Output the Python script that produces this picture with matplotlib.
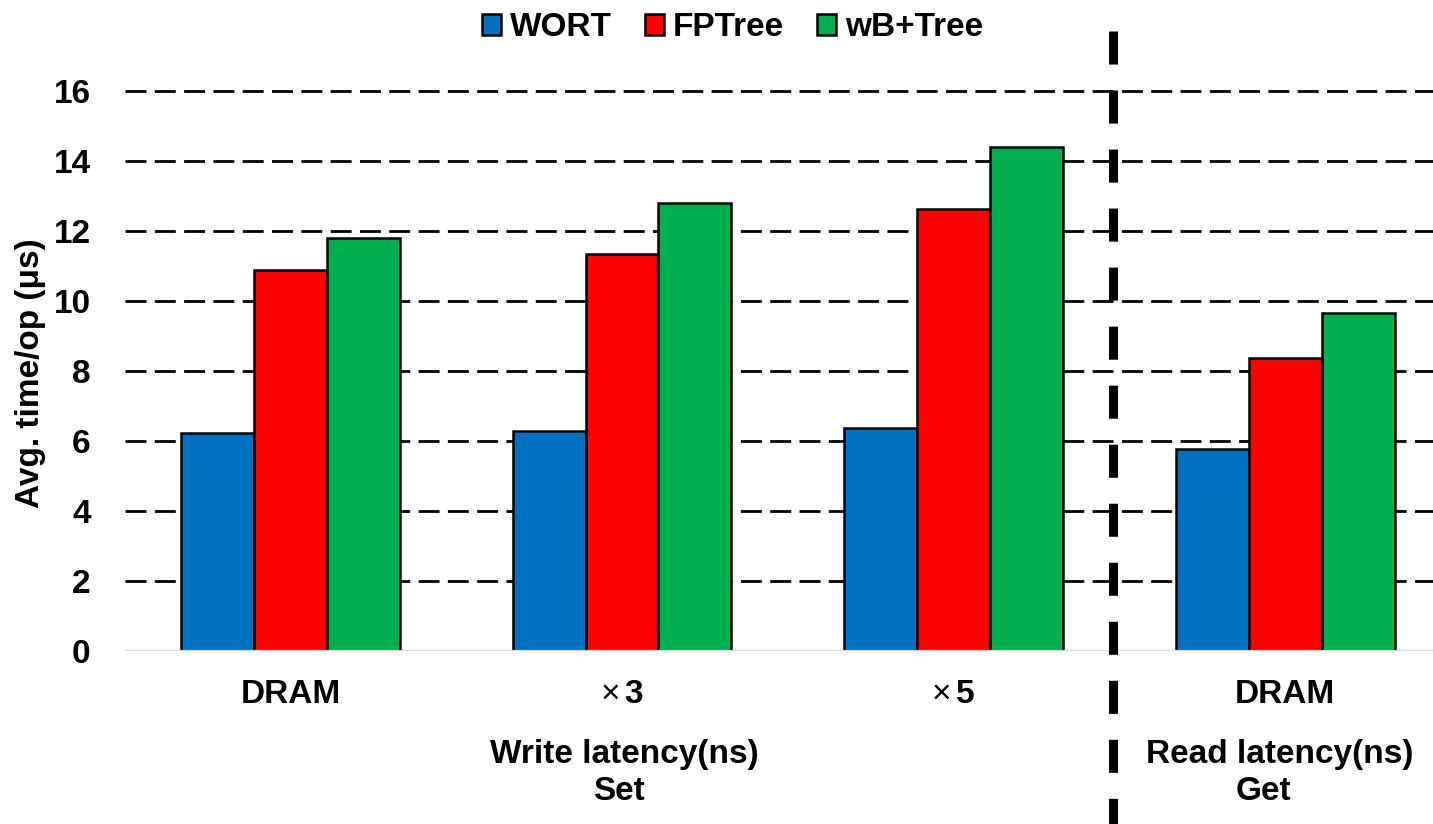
import matplotlib
matplotlib.use("Agg")
import matplotlib.pyplot as plt
from matplotlib.lines import Line2D
from matplotlib.transforms import blended_transform_factory
import numpy as np

plt.rcParams['font.family'] = ['Liberation Sans', 'DejaVu Sans']
plt.rcParams['font.weight'] = 'bold'
plt.rcParams['lines.scale_dashes'] = False

# ---- data ----
categories = ["DRAM", "\u00d73", "\u00d75", "DRAM"]
series_names = ["WORT", "FPTree", "wB+Tree"]
wort = [6.22, 6.29, 6.38, 5.76]
fptree = [10.88, 11.33, 12.63, 8.36]
wbtree = [11.79, 12.79, 14.39, 9.67]
series_colors = ["#0070C0", "#FF0000", "#00B050"]
yticks = [0, 2, 4, 6, 8, 10, 12, 14, 16]
write_label = ["Write latency(ns)", "Set"]
read_label = ["Read latency(ns)", "Get"]

W, H = 1433, 824
fig = plt.figure(figsize=(W / 100, H / 100), dpi=100)
ax = fig.add_axes([124.6 / W, 1 - 651 / H, (1451 - 124.6) / W, 560 / H])

x = np.arange(len(categories))
bw = 0.22
bars = []
for i, (vals, col) in enumerate(zip([wort, fptree, wbtree], series_colors)):
    b = ax.bar(x + (i - 1) * bw, vals, width=bw, color=col, edgecolor="black",
               linewidth=1.8, zorder=3, label=series_names[i])
    bars.append(b)

ax.set_xlim(-0.5, 3.5)
ax.set_ylim(yticks[0], yticks[-1])

# dashed horizontal gridlines
ax.hlines(yticks[1:], -0.5, 3.5, colors="black", linewidth=2.0,
          linestyles=[(0, (15.1, 6.0))], zorder=1, clip_on=False)
# light category axis at zero
ax.axhline(0, color="#D9D9D9", linewidth=1.6, zorder=4)

for s in ax.spines.values():
    s.set_visible(False)

ax.set_yticks(yticks)
ax.set_yticklabels([str(v) for v in yticks])
ax.set_xticks(x)
ax.set_xticklabels([])
ax.tick_params(axis="y", length=0, pad=24.5, labelsize=24)
ax.tick_params(axis="x", length=0)

tr = blended_transform_factory(ax.transData, fig.transFigure)
base_y = 1 - 703 / H
for xi, lab in zip(x, categories):
    if lab.startswith("\u00d7"):
        # multiplication sign in regular weight, factor in bold
        ax.text(xi - 0.006, base_y, lab[0], transform=tr, ha="right",
                va="baseline", fontsize=24, fontweight="normal")
        ax.text(xi + 0.006, base_y, lab[1:], transform=tr, ha="left",
                va="baseline", fontsize=24, fontweight="bold")
    else:
        ax.text(xi, base_y, lab, transform=tr, ha="center", va="baseline",
                fontsize=24, fontweight="bold")

# group captions below the category labels
ax.text(1.008, 1 - 763 / H, write_label[0], transform=tr, ha="center",
        va="baseline", fontsize=24, fontweight="bold")
ax.text(0.990, 1 - 800 / H, write_label[1], transform=tr, ha="center",
        va="baseline", fontsize=24, fontweight="bold")
ax.text(2.983, 1 - 763 / H, read_label[0], transform=tr, ha="center",
        va="baseline", fontsize=24, fontweight="bold")
ax.text(2.935, 1 - 800 / H, read_label[1], transform=tr, ha="center",
        va="baseline", fontsize=24, fontweight="bold")

fig.text(31 / W, 1 - 373 / H, "Avg. time/op (\u03bcs)", rotation=90,
         ha="center", va="center", fontsize=24, fontweight="bold")

# divider between write and read experiments
fig.add_artist(Line2D([1113 / W, 1113 / W], [1 - 31 / H, 0],
                      transform=fig.transFigure, color="black",
                      linewidth=6.5, linestyle=(0, (23.8, 18.7)),
                      dash_capstyle="butt", zorder=10))

fig.legend(handles=bars, labels=series_names, loc="center",
           bbox_to_anchor=(732.5 / W, 1 - 28 / H), ncol=3, frameon=False,
           fontsize=24, handlelength=0.57, handleheight=0.6,
           handletextpad=0.27, columnspacing=1.0, borderpad=0,
           borderaxespad=0)

fig.savefig("out.png", dpi=100)
